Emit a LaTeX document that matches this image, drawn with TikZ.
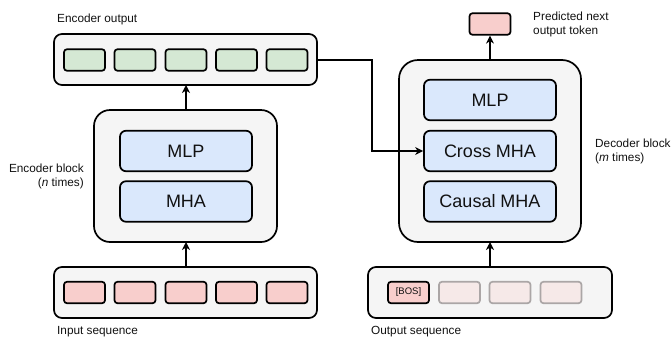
\documentclass[tikz,border=0pt]{standalone}
\usepackage{fontspec}
\setmainfont{Liberation Sans}
\usetikzlibrary{arrows.meta}
\definecolor{cont}{HTML}{F5F5F5}
\definecolor{tgreen}{HTML}{D5E8D4}
\definecolor{tpink}{HTML}{F8CECC}
\definecolor{tfade}{HTML}{F6E9E8}
\definecolor{fadeborder}{HTML}{ABA6A6}
\definecolor{tblue}{HTML}{DAE8FC}
\definecolor{txt}{HTML}{111111}
\tikzset{
  container/.style={draw=black, fill=cont, line width=1.7pt, rounded corners=8pt},
  tok/.style={draw=black, line width=1.7pt, rounded corners=3pt, minimum width=41pt, minimum height=21.5pt, inner sep=0pt, anchor=center},
  fadetok/.style={tok, draw=fadeborder, fill=tfade},
  layer/.style={draw=black, fill=tblue, line width=1.7pt, rounded corners=6pt, minimum width=132pt, minimum height=40.5pt, inner sep=0pt, font=\fontsize{18}{20}\selectfont, text=txt},
  lbl/.style={font=\fontsize{11.8}{14}\selectfont, text=txt, inner sep=0pt},
  arr/.style={line width=2pt, -{Stealth[length=8pt,width=8pt,inset=2.5pt]}}
}
\begin{document}
\begin{tikzpicture}[x=1pt,y=-1pt]
\useasboundingbox (0,0) rectangle (672,338);
% Encoder output
\draw[container] (54,34) rectangle (317,85);
\coordinate (eoR) at (317,59.5);
\coordinate (eoB) at (186,85);
\foreach \i/\x in {1/84.5,2/135,3/186,4/236.5,5/287}
  \node[tok, fill=tgreen] (g\i) at (\x,60) {};
\node[lbl, anchor=west] (eolbl) at (57,19) {Encoder output};
% Encoder block
\draw[container, rounded corners=16pt] (94,110) rectangle (277,242);
\coordinate (ebT) at (186,110);
\coordinate (ebB) at (186,242);
\node[layer] (emlp) at (186,151) {MLP};
\node[layer] (emha) at (186,201.5) {MHA};
\node[lbl, align=right, anchor=east] (eblbl) at (84,176) {Encoder block\\(\textit{n} times)};
% Input sequence
\draw[container] (54,267) rectangle (317,318);
\coordinate (isT) at (186,267);
\foreach \i/\x in {1/84.5,2/135,3/186,4/236.5,5/287}
  \node[tok, fill=tpink] (p\i) at (\x,292.5) {};
\node[lbl, anchor=west] (islbl) at (57,332) {Input sequence};
% Decoder block
\draw[container, rounded corners=19pt] (399,60) rectangle (581,242);
\coordinate (dbT) at (490,60);
\coordinate (dbB) at (490,242);
\node[layer] (dmlp) at (490,100) {MLP};
\node[layer] (dcross) at (490,151) {Cross MHA};
\node[layer] (dcausal) at (490,201.5) {Causal MHA};
\node[lbl, align=left, anchor=west] (dblbl) at (595,151.5) {Decoder block\\(\textit{m} times)};
% Predicted token
\node[tok, fill=tpink] (pred) at (490,24) {};
\node[lbl, align=left, anchor=west] (predlbl) at (533,24.5) {Predicted next\\output token};
% Output sequence
\draw[container] (368,267) rectangle (612,318);
\coordinate (osT) at (490,267);
\node[tok, fill=tpink, font=\fontsize{9.5}{10}\selectfont, text=txt] (bos) at (408.5,292.5) {[BOS]};
\node[fadetok] (f1) at (459.5,292.5) {};
\node[fadetok] (f2) at (510,292.5) {};
\node[fadetok] (f3) at (561,292.5) {};
\node[lbl, anchor=west] (oslbl) at (371,332) {Output sequence};
% Connectors
\draw[arr] (isT) -- (ebB);
\draw[arr] (ebT) -- (eoB);
\draw[arr] (osT) -- (dbB);
\draw[arr] (dbT) -- (pred.south);
\draw[arr] (eoR) -- (372,59.5) |- (dcross.west);
\end{tikzpicture}
\end{document}
